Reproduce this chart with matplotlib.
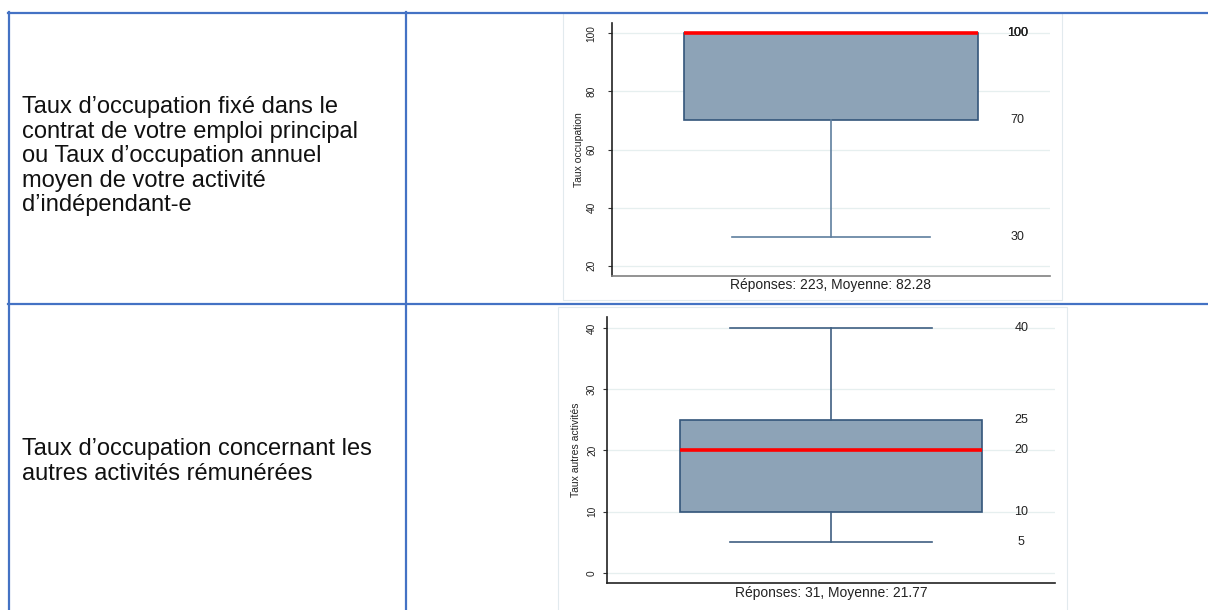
import matplotlib
matplotlib.use('Agg')
import matplotlib.pyplot as plt
from matplotlib.lines import Line2D
from matplotlib.patches import Rectangle

plt.rcParams['font.family'] = ['Liberation Sans', 'DejaVu Sans']

W, H = 1208, 610

# questions (left column)
question1 = ['Taux d’occupation fixé dans le',
             'contrat de votre emploi principal',
             'ou Taux d’occupation annuel',
             'moyen de votre activité',
             'd’indépendant-e']
question2 = ['Taux d’occupation concernant les',
             'autres activités rémunérées']

# box plot statistics
stats1 = dict(whislo=30, q1=70, med=100, q3=100, whishi=100, fliers=[])
stats2 = dict(whislo=5, q1=10, med=20, q3=25, whishi=40, fliers=[])
ylabel1 = 'Taux occupation'
ylabel2 = 'Taux autres activités'
xlabel1 = 'Réponses: 223, Moyenne: 82.28'
xlabel2 = 'Réponses: 31, Moyenne: 21.77'
yticks1 = [20, 40, 60, 80, 100]
yticks2 = [0, 10, 20, 30, 40]


def px(x, y):
    return x / W, 1 - y / H


def rect(x0, y0, x1, y1):
    return [x0 / W, 1 - y1 / H, (x1 - x0) / W, (y1 - y0) / H]


fig = plt.figure(figsize=(W / 100, H / 100), dpi=100)

# light frames of the embedded chart images (behind the axes)
for x0, y0, x1, y1 in [(563, 13, 1062, 300), (558, 307, 1067, 612)]:
    fig.add_artist(Rectangle((x0 / W, 1 - y1 / H), (x1 - x0) / W, (y1 - y0) / H,
                             facecolor='white', edgecolor='#E2EAEE', lw=0.8,
                             zorder=-1))

# table grid
blue = '#4472C4'
for (xa, ya), (xb, yb) in [((8, 12.5), (1208, 12.5)), ((8, 304), (1208, 304)),
                           ((8.5, 12), (8.5, 610)), ((406, 12), (406, 610))]:
    p0, p1 = px(xa, ya), px(xb, yb)
    fig.add_artist(Line2D([p0[0], p1[0]], [p0[1], p1[1]], color=blue, lw=1.6))

# question text
for i, line in enumerate(question1):
    x, y = px(22, 113.3 + 24.5 * i)
    fig.text(x, y, line, fontsize=17, va='baseline', ha='left', color='#111111')
for i, line in enumerate(question2):
    x, y = px(22, 455.5 + 25 * i)
    fig.text(x, y, line, fontsize=17, va='baseline', ha='left', color='#111111')


def draw_box(ax, st, ylim, yticks, ylabel, xlabel, box_w, cap_w, tick_pad, label_pad,
             bottom_color, whisk_color):
    ax.bxp([st], positions=[1], widths=box_w, capwidths=[cap_w], patch_artist=True,
           showfliers=False, manage_ticks=False,
           boxprops=dict(facecolor='#8DA3B7', edgecolor='#34557A', lw=1.2),
           whiskerprops=dict(color=whisk_color, lw=1.2),
           capprops=dict(color=whisk_color, lw=1.2),
           medianprops=dict(color='#FF0000', lw=2.6, solid_capstyle='butt'))
    ax.set_xlim(0.5, 1.5)
    ax.set_ylim(*ylim)
    ax.set_xticks([])
    ax.set_yticks(yticks)
    ax.set_yticklabels([str(t) for t in yticks], rotation=90, va='center', fontsize=7.3)
    ax.tick_params(axis='y', length=3, width=0.8, color='#333333', pad=tick_pad,
                   labelcolor='#222222')
    ax.grid(axis='y', color='#E6EFEF', lw=0.9)
    ax.set_axisbelow(True)
    for s in ['top', 'right']:
        ax.spines[s].set_visible(False)
    ax.spines['left'].set_color('#222222')
    ax.spines['left'].set_linewidth(1.2)
    ax.spines['bottom'].set_color(bottom_color)
    ax.spines['bottom'].set_linewidth(1.2)
    ax.set_ylabel(ylabel, fontsize=7.5, labelpad=label_pad, color='#222222')
    ax.set_xlabel(xlabel, fontsize=10, labelpad=2, color='#222222')
    # value labels on the right, overprinted where values repeat
    for key in ['whislo', 'q1', 'med', 'q3', 'whishi']:
        ax.text(0.925, st[key], str(st[key]), transform=ax.get_yaxis_transform(),
                ha='center', va='center', fontsize=9, color='#222222')


ax1 = fig.add_axes(rect(612, 23.3, 1050, 275.7))
ax1.patch.set_alpha(0)
draw_box(ax1, stats1, (16.56, 103.44), yticks1, ylabel1, xlabel1, 0.673, 0.452,
         8.0, 2, '#808080', '#5F7F9E')

ax2 = fig.add_axes(rect(607, 317, 1055, 583))
ax2.patch.set_alpha(0)
draw_box(ax2, stats2, (-1.68, 41.8), yticks2, ylabel2, xlabel2, 0.672, 0.449,
         4.2, 4, '#222222', '#3F5F82')

fig.savefig('out.png', dpi=100, facecolor='white')
